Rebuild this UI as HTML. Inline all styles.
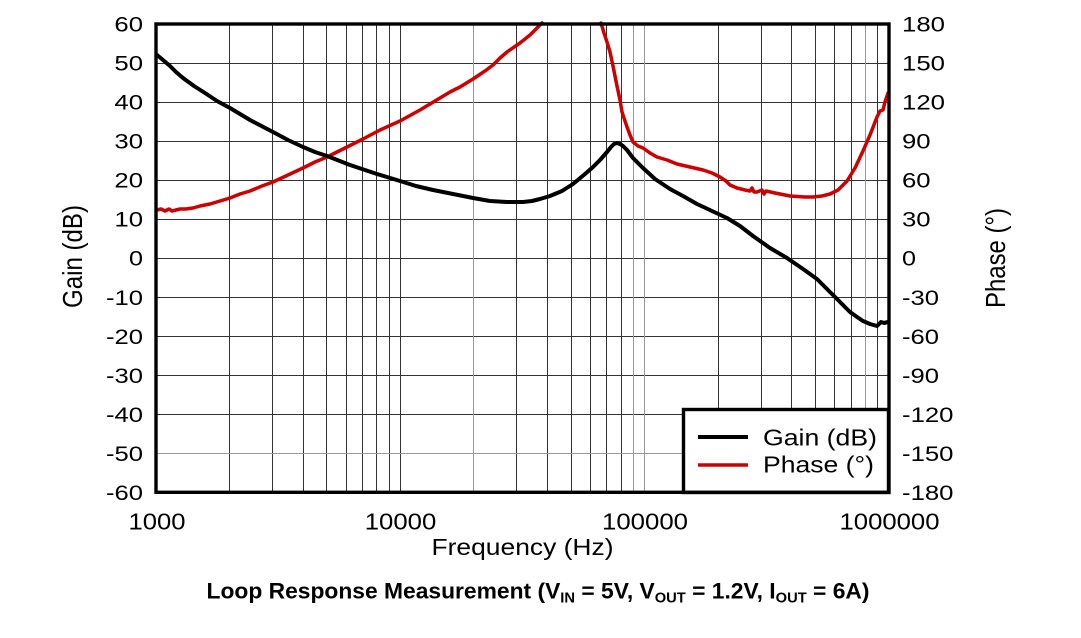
<!DOCTYPE html>
<html>
<head>
<meta charset="utf-8">
<style>
html,body{margin:0;padding:0;background:#fff;}
svg{display:block;}
text{font-family:"Liberation Sans",Arial,sans-serif;fill:#000;}
</style>
</head>
<body>
<svg width="1081" height="638" viewBox="0 0 1081 638" xmlns="http://www.w3.org/2000/svg">
<rect x="0" y="0" width="1081" height="638" fill="#fff"/>
<!-- grid -->
<g stroke="#333" stroke-width="1" fill="none">
<path d="M229.5,24V492M272.5,24V492M303.5,24V492M326.5,24V492M346.5,24V492M362.5,24V492M376.5,24V492M389.5,24V492M400.5,24V492M516.5,24V492M547.5,24V492M571.5,24V492M590.5,24V492M606.5,24V492M621.5,24V492M718.5,24V492M761.5,24V492M791.5,24V492M815.5,24V492M834.5,24V492M851.5,24V492M877.5,24V492"/>
<path d="M156,63.5H889M156,102.5H889M156,141.5H889M156,180.5H889M156,219.5H889M156,258.5H889M156,297.5H889M156,336.5H889M156,375.5H889M156,414.5H889"/>
</g>
<g stroke="#999" stroke-width="1" fill="none">
<path d="M473.5,24V492M633.5,24V492M644.5,24V492M865.5,24V492M156,453.5H889"/>
</g>
<!-- phase (red) -->
<g fill="none" stroke="#cc0000" stroke-width="3.5" stroke-linejoin="round" stroke-linecap="round">
<polyline points="157,210 161,209 165,211 169,209 172,211 176,210 180,209 186,209 193,208 200,206 210,204 220,201 230,198 240,194 250,191 262,186 273,182 288,175 303,168 315,162 327,157 345,148 363,139 380,130 400,121 420,110 440,98 450,92 460,87 473,79 485,71 493,65 500,58 507,52 520,43 530,35 540,25 542,23"/>
<polyline points="601,23 604,33 607,42 610,52 613,66 617,86 620,100 622,112 625,121 627,127 630,135 633,142 638,146 643,148 650,153 657,157 667,160 677,164 690,167 703,170 712,173 720,177 726,181 730,185 737,188 745,190 750,191 752,188 754,192 757,192 762,190 764,194 766,191 775,193 790,196 805,197 813,197 822,196 830,194 838,190 847,181 855,168 863,151 870,135 877,117 880,111 883,110 885,102 888,93"/>
</g>
<!-- gain (black) -->
<polyline fill="none" stroke="#000" stroke-width="4" stroke-linejoin="round" stroke-linecap="round" points="157,55 163,60 170,66 176,72 183,78 194,86 205,93 217,101 230,108 250,120 273,132 288,140 303,147 315,152 327,156 350,165 377,174 400,181 416,186 433,190 453,194 473,198 490,201 507,202 523,202 532,201 540,199 550,196 562,191 573,184 585,174 593,167 600,160 607,152 611,147 614,144 617,143 620,144 623,146 627,150 633,158 643,168 655,179 670,189 683,196 697,204 712,211 727,218 740,226 753,236 770,248 787,258 803,269 817,279 830,292 840,302 850,312 857,317 863,321 870,324 877,326 881,322 884,323 888,322"/>
<!-- legend -->
<rect x="683.5" y="409.5" width="205" height="83" fill="#fff" stroke="#000" stroke-width="3.4"/>
<line x1="698" y1="437" x2="748" y2="437" stroke="#000" stroke-width="4"/>
<line x1="698" y1="465" x2="748" y2="465" stroke="#cc0000" stroke-width="3.5"/>
<text x="763" y="445.5" font-size="23.5" textLength="114" lengthAdjust="spacingAndGlyphs">Gain (dB)</text>
<text x="763" y="472.5" font-size="23.5" textLength="111" lengthAdjust="spacingAndGlyphs">Phase (°)</text>
<!-- frame -->
<rect x="156" y="24" width="733" height="468.3" fill="none" stroke="#000" stroke-width="3.4"/>
<!-- left ticks -->
<g font-size="21" text-anchor="end">
<text x="143" y="31.5" textLength="28.6" lengthAdjust="spacingAndGlyphs">60</text>
<text x="143" y="70.5" textLength="28.6" lengthAdjust="spacingAndGlyphs">50</text>
<text x="143" y="109.6" textLength="28.6" lengthAdjust="spacingAndGlyphs">40</text>
<text x="143" y="148.6" textLength="28.6" lengthAdjust="spacingAndGlyphs">30</text>
<text x="143" y="187.7" textLength="28.6" lengthAdjust="spacingAndGlyphs">20</text>
<text x="143" y="226.7" textLength="28.6" lengthAdjust="spacingAndGlyphs">10</text>
<text x="143" y="265.7" textLength="14" lengthAdjust="spacingAndGlyphs">0</text>
<text x="143" y="304.8" textLength="37" lengthAdjust="spacingAndGlyphs">-10</text>
<text x="143" y="343.8" textLength="37" lengthAdjust="spacingAndGlyphs">-20</text>
<text x="143" y="382.9" textLength="37" lengthAdjust="spacingAndGlyphs">-30</text>
<text x="143" y="421.9" textLength="37" lengthAdjust="spacingAndGlyphs">-40</text>
<text x="143" y="461" textLength="37" lengthAdjust="spacingAndGlyphs">-50</text>
<text x="143" y="500" textLength="37" lengthAdjust="spacingAndGlyphs">-60</text>
</g>
<!-- right ticks -->
<g font-size="21.5">
<text x="902" y="31.5" textLength="43" lengthAdjust="spacingAndGlyphs">180</text>
<text x="902" y="70.5" textLength="43" lengthAdjust="spacingAndGlyphs">150</text>
<text x="902" y="109.6" textLength="43" lengthAdjust="spacingAndGlyphs">120</text>
<text x="902" y="148.6" textLength="28.6" lengthAdjust="spacingAndGlyphs">90</text>
<text x="902" y="187.7" textLength="28.6" lengthAdjust="spacingAndGlyphs">60</text>
<text x="902" y="226.7" textLength="28.6" lengthAdjust="spacingAndGlyphs">30</text>
<text x="902" y="265.7" textLength="14" lengthAdjust="spacingAndGlyphs">0</text>
<text x="902" y="304.8" textLength="37" lengthAdjust="spacingAndGlyphs">-30</text>
<text x="902" y="343.8" textLength="37" lengthAdjust="spacingAndGlyphs">-60</text>
<text x="902" y="382.9" textLength="37" lengthAdjust="spacingAndGlyphs">-90</text>
<text x="902" y="421.9" textLength="51.5" lengthAdjust="spacingAndGlyphs">-120</text>
<text x="902" y="461" textLength="51.5" lengthAdjust="spacingAndGlyphs">-150</text>
<text x="902" y="500" textLength="51.5" lengthAdjust="spacingAndGlyphs">-180</text>
</g>
<!-- x ticks -->
<g font-size="23" text-anchor="middle">
<text x="157" y="529.3" textLength="57" lengthAdjust="spacingAndGlyphs">1000</text>
<text x="400.5" y="529.3" textLength="71.5" lengthAdjust="spacingAndGlyphs">10000</text>
<text x="645" y="529.3" textLength="86" lengthAdjust="spacingAndGlyphs">100000</text>
<text x="889.5" y="529.3" textLength="100" lengthAdjust="spacingAndGlyphs">1000000</text>
</g>
<!-- axis titles -->
<text x="522.5" y="555" font-size="23" text-anchor="middle" textLength="182" lengthAdjust="spacingAndGlyphs">Frequency (Hz)</text>
<g transform="translate(82,256.5) rotate(-90) scale(1,1.2)">
<text x="0" y="0" font-size="23" text-anchor="middle" textLength="103" lengthAdjust="spacingAndGlyphs">Gain (dB)</text>
</g>
<g transform="translate(1005,258) rotate(-90) scale(1,1.2)">
<text x="0" y="0" font-size="23" text-anchor="middle" textLength="100" lengthAdjust="spacingAndGlyphs">Phase (°)</text>
</g>
<!-- caption -->
<text x="206.5" y="598.3" font-size="22.5" font-weight="bold" textLength="663" lengthAdjust="spacingAndGlyphs">Loop Response Measurement (V<tspan font-size="14.5" dy="4">IN</tspan><tspan dy="-4"> = 5V, V</tspan><tspan font-size="14.5" dy="4">OUT</tspan><tspan dy="-4"> = 1.2V, I</tspan><tspan font-size="14.5" dy="4">OUT</tspan><tspan dy="-4"> = 6A)</tspan></text>
</svg>
</body>
</html>
